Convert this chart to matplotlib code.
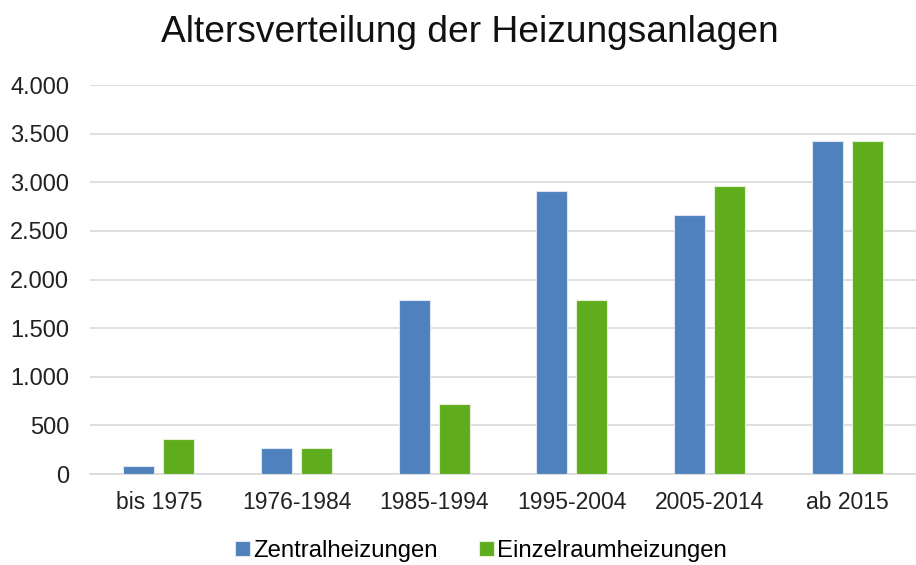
import matplotlib.pyplot as plt
import numpy as np
from matplotlib.ticker import FuncFormatter

# Altersverteilung der Heizungsanlagen
kategorien = ["bis 1975", "1976-1984", "1985-1994", "1995-2004", "2005-2014", "ab 2015"]
zentral = [80, 270, 1790, 2910, 2660, 3420]
einzel = [365, 270, 725, 1790, 2965, 3420]

blau = "#4F81BD"
gruen = "#5FAD1C"

fig = plt.figure(figsize=(9.16, 5.65), dpi=100)
ax = fig.add_axes([0.0983, 0.161, 0.9017, 0.6885])

x = np.arange(len(kategorien))
w = 0.225
ax.bar(x - 0.145, zentral, w, color=blau, edgecolor="#DDE6F2", linewidth=0.8,
       label="Zentralheizungen", zorder=3)
ax.bar(x + 0.145, einzel, w, color=gruen, edgecolor="#E3F0D6", linewidth=0.8,
       label="Einzelraumheizungen", zorder=3)

ax.set_xlim(-0.5, 5.5)
ax.set_ylim(0, 4000)
ax.set_yticks(np.arange(0, 4001, 500))
ax.yaxis.set_major_formatter(FuncFormatter(lambda v, p: f"{int(v):,}".replace(",", ".")))
ax.set_xticks(x)
ax.set_xticklabels(kategorien, family="Liberation Sans", fontsize=16.5)

for t in ax.get_yticklabels():
    t.set_family("Liberation Sans")
    t.set_fontsize(17)
    t.set_color("#222222")
for t in ax.get_xticklabels():
    t.set_color("#222222")

ax.tick_params(axis="both", length=0)
ax.tick_params(axis="y", pad=15)
ax.tick_params(axis="x", pad=12)
ax.grid(axis="y", color="#D9D9D9", linewidth=1.2, zorder=0)
for s in ["top", "right", "left"]:
    ax.spines[s].set_visible(False)
ax.spines["bottom"].set_color("#D9D9D9")
ax.spines["bottom"].set_linewidth(1.2)

fig.text(0.513, 0.942, "Altersverteilung der Heizungsanlagen", ha="center", va="center",
         family="Liberation Sans", fontsize=26.7, color="#111111")

fig.legend(loc="center", bbox_to_anchor=(0.525, 0.025), ncol=2, frameon=False,
           prop={"family": "Liberation Sans", "size": 17.2},
           handlelength=0.64, handleheight=0.64, handletextpad=0.13, columnspacing=1.7,
           borderpad=0.1)

plt.savefig("out.png", dpi=100)
